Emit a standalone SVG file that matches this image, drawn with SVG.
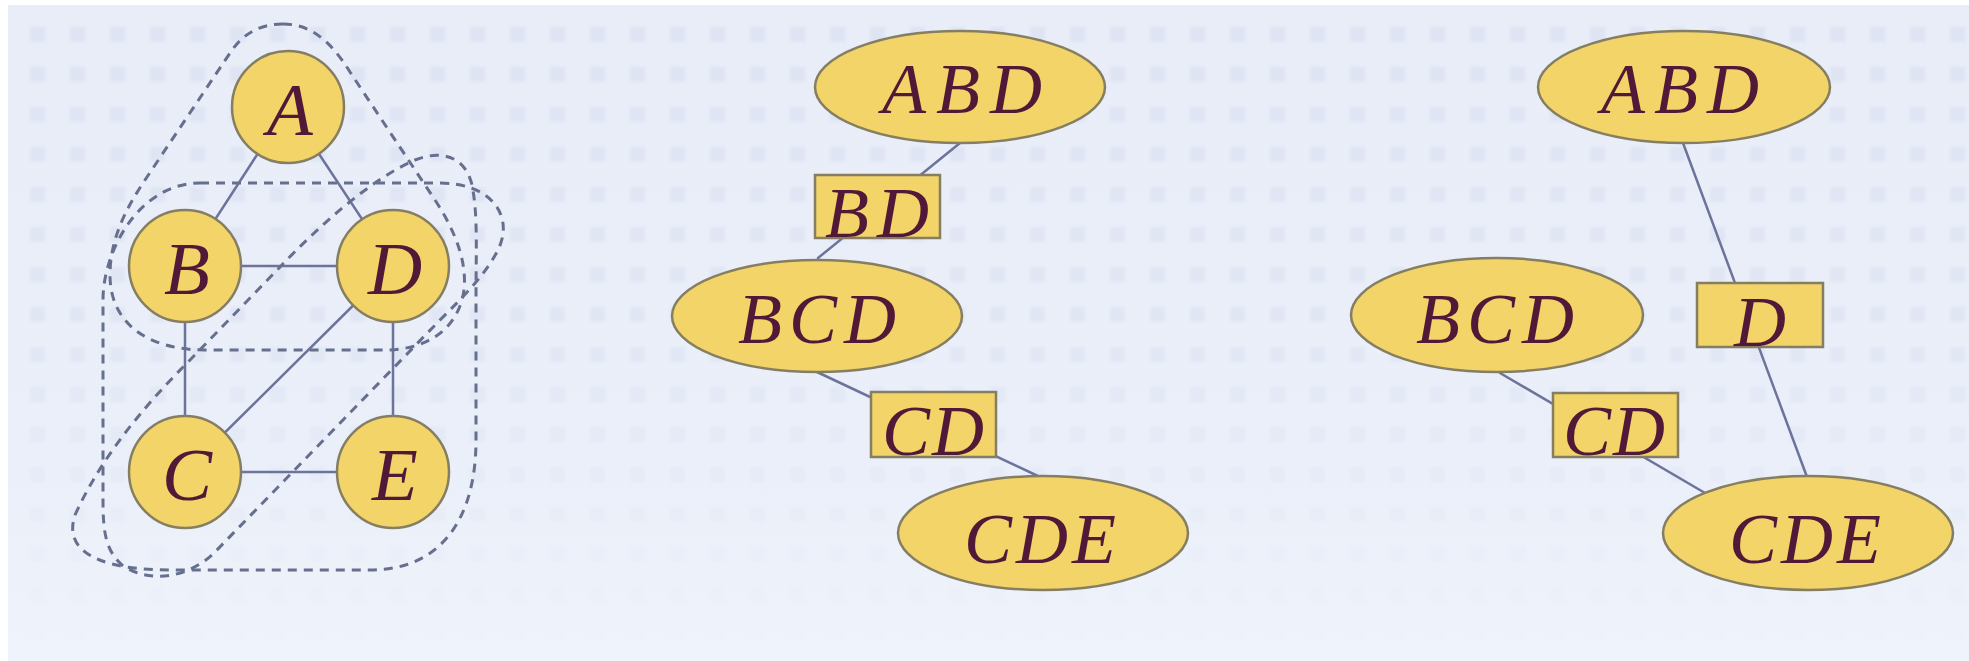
<svg xmlns="http://www.w3.org/2000/svg" width="1969" height="661" viewBox="0 0 1969 661">
  <defs>
    <style>
      .node { fill: #f2d468; stroke: #857e62; stroke-width: 2.5; }
      .edge { stroke: #6c749c; stroke-width: 2.5; fill: none; stroke-linecap: round; }
      .clique { stroke: #66708e; stroke-width: 3; fill: none; stroke-dasharray: 9 7; }
      .lbl { font-family: "Liberation Serif", "DejaVu Serif", serif; font-style: italic; font-size: 72px; fill: #521838; text-anchor: middle; }
      .big { font-size: 75px; }
    </style>
    <pattern id="grid" width="40" height="40" patternUnits="userSpaceOnUse" x="10" y="7">
      <rect x="20" y="20" width="15" height="15" fill="#d3daed"/>
    </pattern>
    <filter id="soft" x="0" y="0" width="1" height="1">
      <feGaussianBlur stdDeviation="1.6"/>
    </filter>
    <linearGradient id="fade" x1="0" y1="0" x2="0" y2="1">
      <stop offset="0" stop-color="#fff" stop-opacity="1"/>
      <stop offset="0.5" stop-color="#fff" stop-opacity="0.75"/>
      <stop offset="0.85" stop-color="#fff" stop-opacity="0.2"/>
      <stop offset="1" stop-color="#fff" stop-opacity="0"/>
    </linearGradient>
    <linearGradient id="wash" x1="0" y1="0" x2="0" y2="1">
      <stop offset="0" stop-color="#e8edf8"/>
      <stop offset="0.7" stop-color="#eaeff9"/>
      <stop offset="1" stop-color="#eff3fb"/>
    </linearGradient>
    <mask id="gridMask">
      <rect x="0" y="0" width="1969" height="661" fill="url(#fade)"/>
    </mask>
  </defs>

  <!-- backdrop -->
  <rect x="0" y="0" width="1969" height="661" fill="#ffffff"/>
  <rect x="8" y="5" width="1961" height="656" fill="url(#wash)"/>
  <g mask="url(#gridMask)" opacity="0.5">
    <rect x="8" y="5" width="1961" height="656" fill="url(#grid)" filter="url(#soft)"/>
  </g>

  <!-- connectors -->
  <g id="connectors">
    <!-- graph edges -->
    <line class="edge" x1="288" y1="107" x2="185" y2="266"/>
    <line class="edge" x1="288" y1="107" x2="393" y2="266"/>
    <line class="edge" x1="185" y1="266" x2="393" y2="266"/>
    <line class="edge" x1="185" y1="266" x2="185" y2="472"/>
    <line class="edge" x1="393" y1="266" x2="185" y2="472"/>
    <line class="edge" x1="393" y1="266" x2="393" y2="472"/>
    <line class="edge" x1="185" y1="472" x2="393" y2="472"/>
    <!-- junction tree -->
    <line class="edge" x1="960" y1="143" x2="818" y2="258"/>
    <line class="edge" x1="817" y1="372" x2="1040" y2="477"/>
    <!-- alternative tree -->
    <line class="edge" x1="1683" y1="143" x2="1807" y2="477"/>
    <line class="edge" x1="1500" y1="373" x2="1705" y2="493"/>
  </g>

  <!-- clique outlines -->
  <g id="cliques">
    <path id="clique-ABD" class="clique" d="M 283 24 C 310 24 330 40 350 72 L 435 200 C 458 235 470 270 462 300 C 452 335 420 350 385 350 L 205 350 C 150 350 110 325 110 275 C 110 240 125 210 145 180 L 232 50 C 245 32 262 24 283 24 Z"/>
    <path id="clique-BCD" class="clique" d="M 200 183 L 440 183 C 490 183 515 215 498 250 C 485 275 465 295 440 320 L 215 552 C 190 577 150 585 122 565 C 105 550 103 530 103 500 L 103 300 C 103 250 140 183 200 183 Z"/>
    <path id="clique-CDE" class="clique" d="M 75 515 C 100 460 140 410 190 360 L 280 267 C 320 225 370 180 415 160 C 440 150 465 155 472 185 C 478 215 476 250 476 300 L 476 440 C 476 520 440 570 370 570 L 170 570 C 120 570 60 560 75 515 Z"/>
  </g>

  <!-- graph nodes -->
  <g id="node-A"><circle class="node" cx="288" cy="107" r="56"/><text class="lbl big" x="290" y="135">A</text></g>
  <g id="node-B"><circle class="node" cx="185" cy="266" r="56"/><text class="lbl big" x="187" y="294">B</text></g>
  <g id="node-D"><circle class="node" cx="393" cy="266" r="56"/><text class="lbl big" x="395" y="294">D</text></g>
  <g id="node-C"><circle class="node" cx="185" cy="472" r="56"/><text class="lbl big" x="187" y="500">C</text></g>
  <g id="node-E"><circle class="node" cx="393" cy="472" r="56"/><text class="lbl big" x="395" y="500">E</text></g>

  <!-- junction tree -->
  <g id="jt-ABD"><ellipse class="node" cx="960" cy="87" rx="145" ry="56"/><text class="lbl" x="962" y="113" textLength="160" lengthAdjust="spacing">ABD</text></g>
  <g id="jt-BD"><rect class="node" x="815" y="175" width="125" height="63"/><text class="lbl" x="877" y="237" textLength="104" lengthAdjust="spacing">BD</text></g>
  <g id="jt-BCD"><ellipse class="node" cx="817" cy="316" rx="145" ry="56"/><text class="lbl" x="817" y="343" textLength="158" lengthAdjust="spacing">BCD</text></g>
  <g id="jt-CD"><rect class="node" x="871" y="392" width="125" height="65"/><text class="lbl" x="933" y="455" textLength="102" lengthAdjust="spacing">CD</text></g>
  <g id="jt-CDE"><ellipse class="node" cx="1043" cy="533" rx="145" ry="57"/><text class="lbl" x="1040" y="563" textLength="152" lengthAdjust="spacing">CDE</text></g>

  <!-- alternative tree -->
  <g id="alt-ABD"><ellipse class="node" cx="1684" cy="87" rx="146" ry="56"/><text class="lbl" x="1680" y="113" textLength="158" lengthAdjust="spacing">ABD</text></g>
  <g id="alt-D"><rect class="node" x="1697" y="283" width="126" height="64"/><text class="lbl" x="1760" y="346">D</text></g>
  <g id="alt-BCD"><ellipse class="node" cx="1497" cy="315" rx="146" ry="57"/><text class="lbl" x="1495" y="343" textLength="158" lengthAdjust="spacing">BCD</text></g>
  <g id="alt-CD"><rect class="node" x="1553" y="393" width="125" height="64"/><text class="lbl" x="1614" y="455" textLength="102" lengthAdjust="spacing">CD</text></g>
  <g id="alt-CDE"><ellipse class="node" cx="1808" cy="533" rx="145" ry="57"/><text class="lbl" x="1805" y="563" textLength="152" lengthAdjust="spacing">CDE</text></g>
</svg>
